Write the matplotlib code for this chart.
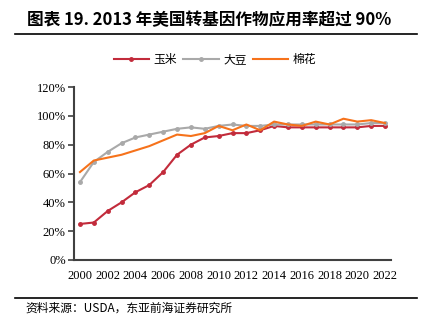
import matplotlib.pyplot as plt
from matplotlib.ticker import FuncFormatter

plt.rcParams['font.family'] = ['Liberation Serif', 'Noto Sans CJK SC', 'DejaVu Sans']

years = list(range(2000, 2023))
corn = [25, 26, 34, 40, 47, 52, 61, 73, 80, 85, 86, 88, 88, 90, 93, 92, 92, 92, 92, 92, 92, 93, 93]
soy = [54, 68, 75, 81, 85, 87, 89, 91, 92, 91, 93, 94, 93, 93, 94, 94, 94, 94, 94, 94, 94, 95, 95]
cotton = [61, 69, 71, 73, 76, 79, 83, 87, 86, 88, 93, 90, 94, 90, 96, 94, 93, 96, 94, 98, 96, 97, 95]
names = ['玉米', '大豆', '棉花']
xticks = list(range(2000, 2023, 2))
yticks = [0, 20, 40, 60, 80, 100, 120]

fig = plt.figure(figsize=(4.29, 3.25), dpi=100)
ax = fig.add_axes([74 / 429, 1 - 260 / 325, 317 / 429, 173 / 325])

ax.plot(years, corn, color='#C22B3B', lw=1.5, marker='o', ms=2.5, label=names[0])
ax.plot(years, soy, color='#A9A9A9', lw=1.5, marker='o', ms=2.5, label=names[1])
ax.plot(years, cotton, color='#F6721B', lw=1.5, label=names[2])

ax.set_xlim(1999.57, 2022.43)
ax.set_ylim(0, 120)
ax.set_xticks(xticks)
ax.set_yticks(yticks)
ax.yaxis.set_major_formatter(FuncFormatter(lambda v, p: f'{int(v)}%'))
ax.tick_params(axis='x', length=0, labelsize=9, pad=7)
ax.tick_params(axis='y', length=4, width=1.2, color='#404040', labelsize=9, pad=2)
for s in ['top', 'right']:
    ax.spines[s].set_visible(False)
for s in ['left', 'bottom']:
    ax.spines[s].set_color('#404040')
    ax.spines[s].set_linewidth(1.5)

leg = fig.legend(loc='center', bbox_to_anchor=(215 / 429, 1 - 60 / 325), ncol=3, frameon=False,
                 prop={'family': ['Noto Sans CJK SC'], 'size': 8.5}, handlelength=3,
                 columnspacing=0.5, handletextpad=0.4)

fig.text(27 / 429, 1 - 20 / 325, '图表 19. 2013 年美国转基因作物应用率超过 90%',
         fontsize=12, fontweight='bold', va='center', ha='left',
         family=['Noto Sans CJK SC', 'DejaVu Sans'])
fig.add_artist(plt.Line2D([15 / 429, 417 / 429], [1 - 34 / 325, 1 - 34 / 325], color='black', lw=1.2))
fig.add_artist(plt.Line2D([15 / 429, 417 / 429], [1 - 298 / 325, 1 - 298 / 325], color='black', lw=1.2))
fig.text(25 / 429, 1 - 308 / 325, '资料来源：USDA，东亚前海证券研究所', fontsize=8.5, va='center',
         ha='left', family=['Noto Sans CJK SC', 'DejaVu Sans'])

fig.savefig('out.png', dpi=100)
